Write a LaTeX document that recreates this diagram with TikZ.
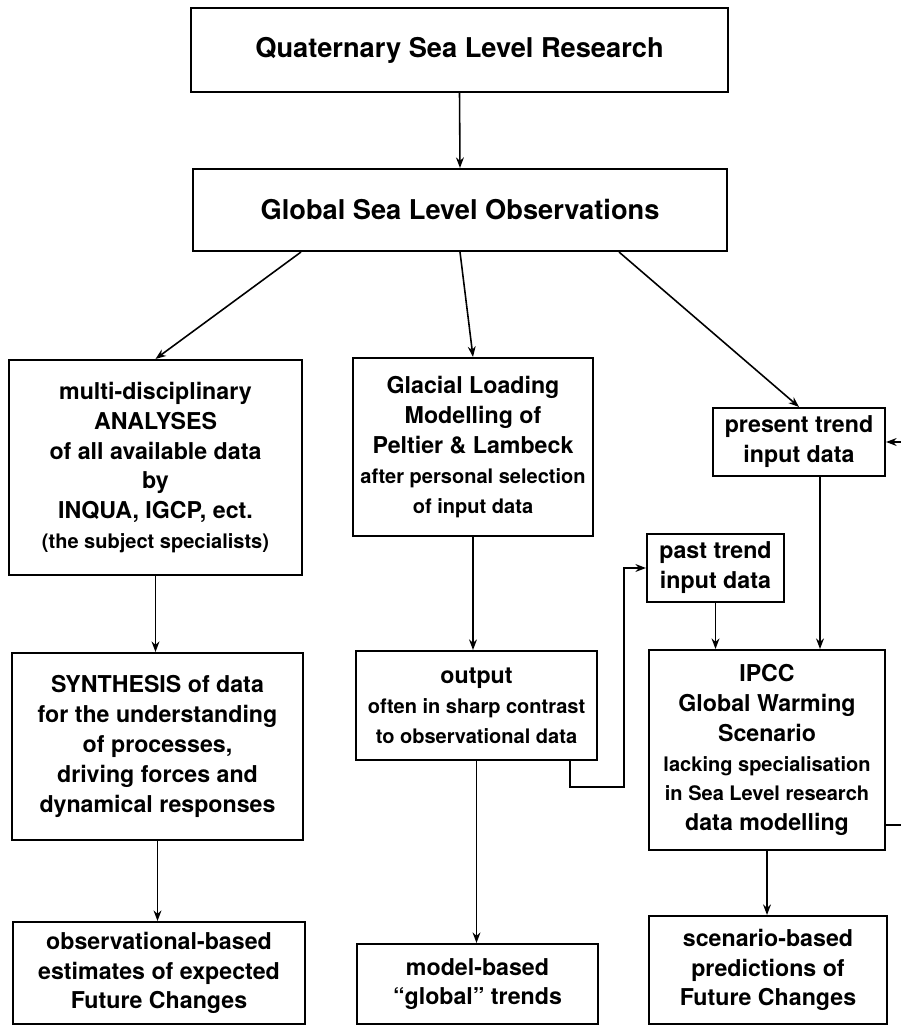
\documentclass[tikz,border=0pt]{standalone}
\usepackage{fontspec}
\setmainfont{TeX Gyre Heros}
\usetikzlibrary{arrows.meta}
\newcommand{\smallline}{\fontsize{11.4}{17}\selectfont}
\newcommand{\normline}{\fontsize{13.2}{17}\selectfont}
\newcommand{\bigline}{\fontsize{15.5}{17}\selectfont}
\tikzset{box/.style={draw, line width=1.2pt, align=center, inner sep=0pt,
   font=\bfseries\normline},
 conn/.style={draw, line width=0.9pt, -{Stealth[length=6pt,width=4.5pt]}},
 }

\begin{document}
\begin{tikzpicture}[x=0.02cm,y=-0.02cm]
        \useasboundingbox (0,0) rectangle (900,1026);
        % top row
        \node[box, minimum width=10.74cm, minimum height=1.68cm] (quat) at (459.5,50)
            {\bigline Quaternary Sea Level Research};
        \node[box, minimum width=10.68cm, minimum height=1.64cm] (glob) at (460,210)
            {\bigline Global Sea Level Observations};
        % second row
        \node[box, minimum width=5.86cm, minimum height=4.30cm] (anal) at (155.5,467.5)
            {multi-disciplinary\\ ANALYSES\\ of all available data\\ by\\
             INQUA, IGCP, ect.\\ \smallline (the subject specialists)};
        \node[box, minimum width=4.80cm, minimum height=3.56cm] (glac) at (473,447)
            {Glacial Loading\\ Modelling of\\ Peltier \& Lambeck\\
             \smallline after personal selection\\ \smallline of input data};
        \node[box, minimum width=3.44cm, minimum height=1.36cm] (pres) at (799,442)
            {present trend\\ input data};
        \node[box, minimum width=2.74cm, minimum height=1.36cm] (past) at (715.5,568)
            {past trend\\ input data};
        % third row
        \node[box, minimum width=5.82cm, minimum height=3.74cm] (synth) at (157.5,746.5)
            {SYNTHESIS of data\\ for the understanding\\ of processes,\\
             driving forces and\\ dynamical responses};
        \node[box, minimum width=4.82cm, minimum height=2.18cm] (outp) at (476.5,705.5)
            {output\\ \smallline often in sharp contrast\\ \smallline to observational data};
        \node[box, minimum width=4.72cm, minimum height=4.00cm] (ipcc) at (767,750)
            {IPCC\\ Global Warming\\ Scenario\\ \smallline lacking specialisation\\
             \smallline in Sea Level research\\ \normline data modelling};
        % bottom row
        \node[box, minimum width=5.84cm, minimum height=2.04cm] (obsb) at (159,973)
            {observational-based\\ estimates of expected\\ Future Changes};
        \node[box, minimum width=4.82cm, minimum height=1.60cm] (model) at (477.5,984)
            {model-based\\ ``global'' trends};
        \node[box, minimum width=4.76cm, minimum height=2.16cm] (scen) at (768,970)
            {scenario-based\\ predictions of\\ Future Changes};

        \draw[conn] (quat.south) -- (glob.north);
        \draw[conn] ([xshift=2.18cm]glob.south west) -- (anal.north);
        \draw[conn] (glob.south) -- (glac.north);
        \draw[conn] ([xshift=-2.18cm]glob.south east) -- (pres.north);
        \draw[conn] (anal.south) -- (anal.south |- synth.north);
        \draw[conn] (synth.south) -- (synth.south |- obsb.north);
        \draw[conn] (glac.south) -- (glac.south |- outp.north);
        \draw[conn] (outp.south) -- (outp.south |- model.north);
        \draw[conn] ([xshift=0.42cm]pres.south) -- ([xshift=0.42cm]pres.south |- ipcc.north);
        \draw[conn] (past.south) -- (past.south |- ipcc.north);
        \draw[conn] (ipcc.south) -- (ipcc.south |- scen.north);
        % feedback lines
        \draw[conn] ([xshift=-0.56cm]outp.south east) -- ++(0,26) -- ++(54,0) |- (past.west);
        \draw[conn] ([yshift=-1.5cm]ipcc.east) -- ++(20,0) |- (pres.east);
    \end{tikzpicture}
\end{document}
